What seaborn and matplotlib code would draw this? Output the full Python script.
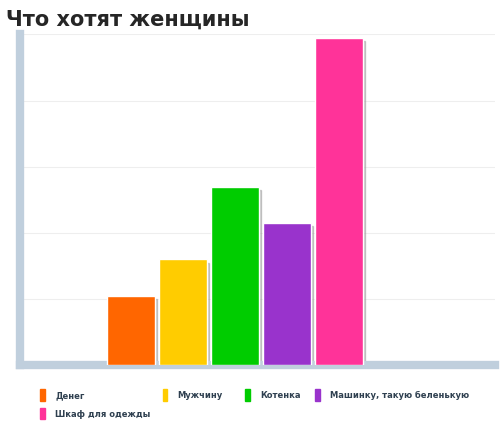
import matplotlib
matplotlib.use("Agg")
import matplotlib.pyplot as plt
import seaborn as sns
import pandas as pd
from matplotlib.patches import Rectangle

categories = ["Денег", "Мужчину", "Котенка", "Машинку, такую беленькую", "Шкаф для одежды"]
values = [21, 32, 54, 43, 99]
colors = ["#ff6600", "#ffcc00", "#00cc00", "#9933cc", "#ff3399"]

df = pd.DataFrame({"cat": categories, "val": values})

sns.set_style("white")
plt.rcParams["font.family"] = ["DejaVu Sans"]

fig = plt.figure(figsize=(5.0, 4.42), dpi=100)
ax = fig.add_axes([0.04, 0.174, 0.95, 0.748])

sns.barplot(data=df, x="cat", y="val", hue="cat", palette=colors, width=0.93,
            saturation=1, legend=False, ax=ax, zorder=3)
for p in ax.patches:
    ax.add_patch(Rectangle((p.get_x() + 0.04, 0), p.get_width(), p.get_height() - 1,
                           color="#999999", alpha=0.5, zorder=2))

ax.set_xlim(-2.13, 7.0)
ax.set_ylim(0, 100)
ax.set_yticks([0, 20, 40, 60, 80, 100])
ax.set_yticklabels([])
ax.set_xticks([])
ax.set_xlabel("")
ax.set_ylabel("")
ax.grid(axis="y", color="#eeeeee", linewidth=0.8, zorder=0)
for s in ["top", "right"]:
    ax.spines[s].set_visible(False)
ax.spines["left"].set_color("#c0cfdd")
ax.spines["left"].set_linewidth(6)
ax.spines["bottom"].set_color("#c0cfdd")
ax.spines["bottom"].set_linewidth(6)
ax.tick_params(axis="y", length=4, color="#c0cfdd")

fig.text(0.012, 0.955, "Что хотят женщины", fontsize=15, fontweight="bold", ha="left", va="center")

leg_pos = [(0.08, 0.105), (0.325, 0.105), (0.49, 0.105), (0.63, 0.105), (0.08, 0.063)]
for (x, y), c, lab in zip(leg_pos, colors, categories):
    fig.patches.append(Rectangle((x, y - 0.012), 0.009, 0.026, color=c,
                                 transform=fig.transFigure, figure=fig))
    fig.text(x + 0.03, y, lab, fontsize=6, fontweight="bold", color="#2f4050", va="center")

fig.savefig("out.png", dpi=100)
